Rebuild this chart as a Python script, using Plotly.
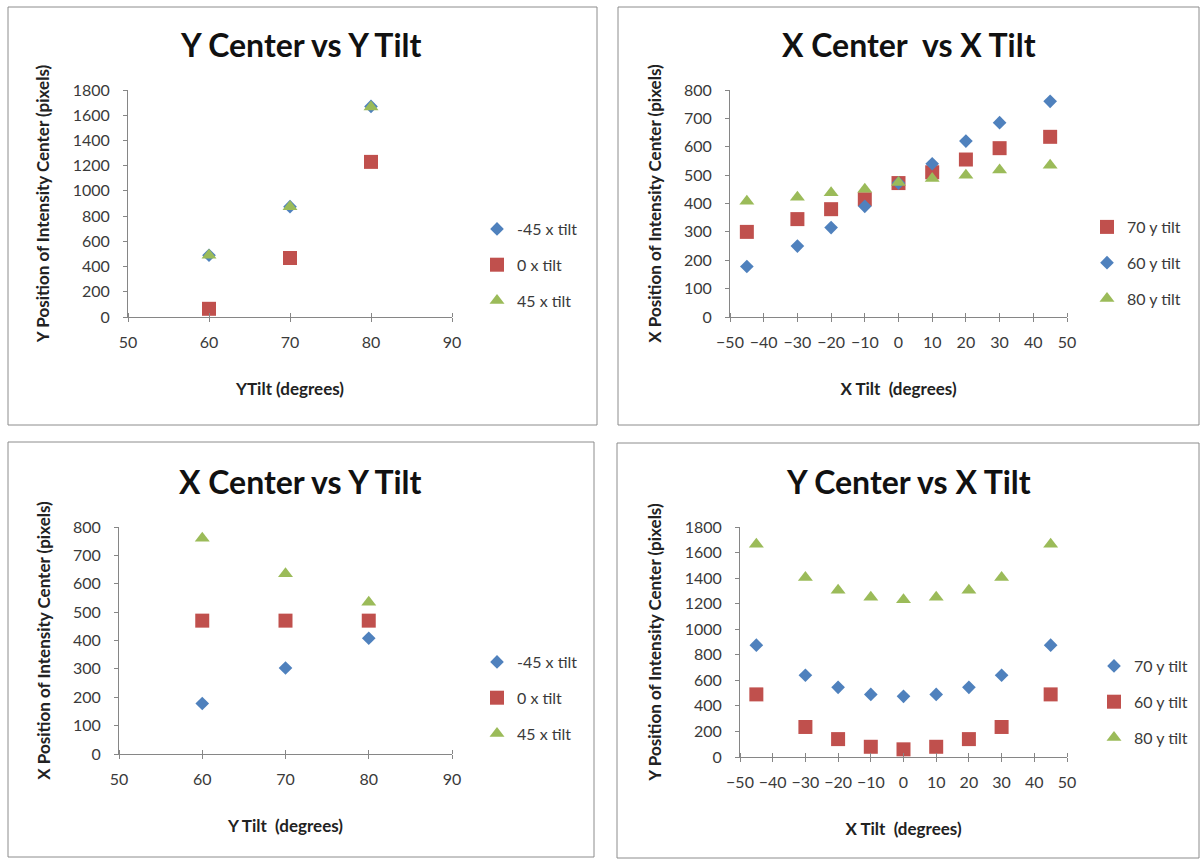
import plotly.graph_objects as go

W, H = 1201, 860

# ---------------- data ----------------
y_tilt = [60, 70, 80]
x_tilt = [-45, -30, -20, -10, 0, 10, 20, 30, 45]

# Panel 1: Y Center vs Y Tilt
p1_m45 = [490, 875, 1670]
p1_0 = [65, 468, 1230]
p1_45 = [490, 875, 1665]

# Panel 2: X Center vs X Tilt
p2_70 = [300, 345, 380, 415, 472, 510, 555, 595, 635]
p2_60 = [178, 250, 315, 390, 472, 540, 620, 685, 760]
p2_80 = [408, 422, 438, 450, 474, 488, 500, 518, 535]

# Panel 3: X Center vs Y Tilt
p3_m45 = [178, 303, 408]
p3_0 = [470, 470, 470]
p3_45 = [760, 635, 535]

# Panel 4: Y Center vs X Tilt
p4_70 = [875, 640, 545, 490, 475, 490, 545, 640, 875]
p4_60 = [490, 235, 140, 80, 60, 80, 140, 235, 490]
p4_80 = [1665, 1405, 1305, 1250, 1230, 1250, 1305, 1405, 1665]

titles = ["Y Center vs Y Tilt", "X Center  vs X Tilt", "X Center vs Y Tilt", "Y Center vs X Tilt"]
xtitles = ["YTilt (degrees)", "X Tilt  (degrees)", "Y Tilt  (degrees)", "X Tilt  (degrees)"]
ytitles = ["Y Position of Intensity Center (pixels)", "X Position of Intensity Center (pixels)",
           "X Position of Intensity Center (pixels)", "Y Position of Intensity Center (pixels)"]

BLUE, RED, GREEN = "#4F81BD", "#C0504D", "#9BBB59"
FONT = "Lato, Carlito, Calibri, sans-serif"

fig = go.Figure()

def px(v):
    return v / W

def py(v):
    return 1 - v / H

def add(x, y, name, symbol, color, size, idx, leg):
    fig.add_trace(go.Scatter(
        x=x, y=y, mode="markers", name=name,
        marker=dict(symbol=symbol, color=color, size=size, line=dict(width=0)),
        xaxis="x" if idx == 1 else f"x{idx}", yaxis="y" if idx == 1 else f"y{idx}",
        legend=leg, legendgroup=f"{leg}_{name}",
    ))

SQ, DI, TR = 14, 10.5, 13
add(y_tilt, p1_m45, "-45 x tilt", "diamond", BLUE, DI, 1, "legend")
add(y_tilt, p1_0, "0 x tilt", "square", RED, SQ, 1, "legend")
add(y_tilt, p1_45, "45 x tilt", "triangle-up", GREEN, TR, 1, "legend")

add(x_tilt, p2_70, "70 y tilt", "square", RED, SQ, 2, "legend2")
add(x_tilt, p2_60, "60 y tilt", "diamond", BLUE, DI, 2, "legend2")
add(x_tilt, p2_80, "80 y tilt", "triangle-up", GREEN, TR, 2, "legend2")

add(y_tilt, p3_m45, "-45 x tilt", "diamond", BLUE, DI, 3, "legend3")
add(y_tilt, p3_0, "0 x tilt", "square", RED, SQ, 3, "legend3")
add(y_tilt, p3_45, "45 x tilt", "triangle-up", GREEN, TR, 3, "legend3")

add(x_tilt, p4_70, "70 y tilt", "diamond", BLUE, DI, 4, "legend4")
add(x_tilt, p4_60, "60 y tilt", "square", RED, SQ, 4, "legend4")
add(x_tilt, p4_80, "80 y tilt", "triangle-up", GREEN, TR, 4, "legend4")

# panel geometry (pixels)
panels = [
    dict(ax0=128, ax1=452, ay0=90, ay1=317, xr=[50, 90], yr=[0, 1800], box=(8, 7, 597, 425),
         title_xy=(300, 45), leg=(477, 265)),
    dict(ax0=730, ax1=1067, ay0=90, ay1=317, xr=[-50, 50], yr=[0, 800], box=(618, 7, 1199, 425),
         title_xy=(909, 45), leg=(1087, 263)),
    dict(ax0=119, ax1=452, ay0=527, ay1=754, xr=[50, 90], yr=[0, 800], box=(8, 442, 594, 857),
         title_xy=(300, 481), leg=(477, 698)),
    dict(ax0=740, ax1=1067, ay0=527, ay1=757, xr=[-50, 50], yr=[0, 1800], box=(617, 443, 1199, 858),
         title_xy=(908, 481), leg=(1094, 702)),
]

AXC = "#868686"
TICKC = "#3A3A3A"
shapes, annots = [], []
for i, p in enumerate(panels, start=1):
    xs = "xaxis" if i == 1 else f"xaxis{i}"
    ys = "yaxis" if i == 1 else f"yaxis{i}"
    ya = "y" if i == 1 else f"y{i}"
    xa = "x" if i == 1 else f"x{i}"
    fig.layout[xs] = dict(
        domain=[px(p["ax0"]), px(p["ax1"])], range=p["xr"], dtick=10, anchor=ya, automargin=False,
        showline=True, linecolor=AXC, linewidth=1, showgrid=False, zeroline=False,
        ticks="outside", ticklen=4, tickcolor=AXC, ticklabelstandoff=7,
        minor=dict(ticks="inside", ticklen=4, tickcolor=AXC, dtick=10, tick0=p["xr"][0], showgrid=False),
        tickfont=dict(family=FONT, size=16, color=TICKC),
        title=dict(text=xtitles[i - 1], font=dict(family=FONT, size=17, color="#222", weight="bold"), standoff=32),
    )
    fig.layout[ys] = dict(
        domain=[py(p["ay1"]), py(p["ay0"])], range=p["yr"], dtick=p["yr"][1] / (9 if p["yr"][1] == 1800 else 8),
        anchor=xa, automargin=False, showline=True, linecolor=AXC, linewidth=1, showgrid=False, zeroline=False,
        ticks="outside", ticklen=4, tickcolor=AXC, ticklabelstandoff=10,
        tickfont=dict(family=FONT, size=16, color=TICKC),
        title=dict(text=ytitles[i - 1], font=dict(family=FONT, size=17, color="#222", weight="bold"), standoff=18),
    )
    bx0, by0, bx1, by1 = p["box"]
    shapes.append(dict(type="rect", xref="paper", yref="paper", x0=px(bx0), x1=px(bx1), y0=py(by1), y1=py(by0),
                       line=dict(color="#8C8C8C", width=1), fillcolor="rgba(0,0,0,0)", layer="below"))
    annots.append(dict(text=titles[i - 1], xref="paper", yref="paper", x=px(p["title_xy"][0]), y=py(p["title_xy"][1]),
                       xanchor="center", yanchor="middle", showarrow=False,
                       font=dict(family=FONT, size=32, color="#111", weight="bold")))
    lname = "legend" if i == 1 else f"legend{i}"
    fig.layout[lname] = dict(
        x=px(p["leg"][0]), y=py(p["leg"][1]), xanchor="left", yanchor="middle",
        font=dict(family=FONT, size=16, color=TICKC), tracegroupgap=12,
        bgcolor="rgba(0,0,0,0)", itemwidth=30,
    )

fig.update_layout(
    width=W, height=H, margin=dict(l=0, r=0, t=0, b=0, autoexpand=False),
    paper_bgcolor="white", plot_bgcolor="white",
    shapes=shapes, annotations=annots, showlegend=True,
)

fig.write_html("out.html")
